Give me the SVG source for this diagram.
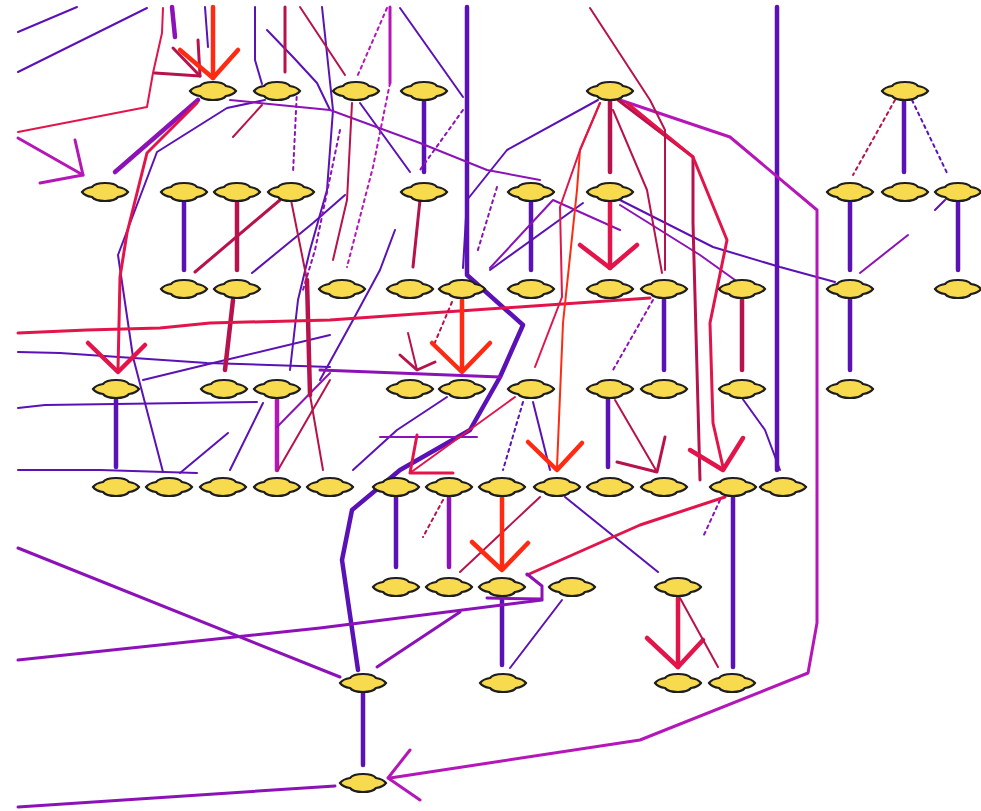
<svg xmlns="http://www.w3.org/2000/svg" xmlns:xlink="http://www.w3.org/1999/xlink" width="981" height="811" viewBox="0 0 981 811">
<style>
polyline{fill:none;stroke-linecap:round;stroke-linejoin:round}
.v{stroke:#5a12b6}.p{stroke:#8c12b8}.m{stroke:#b416b8}.c{stroke:#b8124c}.r{stroke:#e2144a}.b{stroke:#ff2a12}
.w1{stroke-width:2}.w2{stroke-width:3}.w3{stroke-width:4.5}
.d{stroke-dasharray:3 4}
.node{fill:#f8da4e;stroke:#1e1e1e;stroke-width:2.2}
</style>
<defs>
<path id="nd" d="M-23,0 Q-20,-4 -13,-5 Q-10,-9 0,-9 Q10,-9 13,-5 Q20,-4 23,0 Q20,4 13,5 Q10,9 0,9 Q-10,9 -13,5 Q-20,4 -23,0 Z"/>
</defs>
<rect width="981" height="811" fill="#fff"/>
<g id="connectors">
<polyline class="v w1" points="18,32 77,7"/>
<polyline class="v w1" points="18,72 147,8"/>
<polyline class="v w1" points="265,100 227,108 157,152 118,255 133,357 163,472"/>
<polyline class="v w1" points="255,7 255,60 262,84"/>
<polyline class="v w1" points="267,30 293,57 317,83 330,110"/>
<polyline class="v w3" points="184,200 184,270"/>
<polyline class="v w1" points="252,273 313,223 345,195"/>
<polyline class="v w1" points="322,7 333,110 327,190 310,250 298,300 290,370"/>
<polyline class="v w1" points="400,8 463,97"/>
<polyline class="v w1" points="360,103 410,172"/>
<polyline class="v w3" points="424,100 424,172"/>
<polyline class="c w2" points="420,200 413,267"/>
<polyline class="v w3" points="467,7 467,275 523,325 500,377 470,430 400,470 352,510 342,560 358,670"/>
<polyline class="v w1" points="598,100 507,150 467,200 463,268"/>
<polyline class="v w1" points="583,203 490,270"/>
<polyline class="v w3" points="531,200 531,270"/>
<polyline class="v w1" points="620,200 713,247 780,267 835,282"/>
<polyline class="v w3" points="777,7 777,470"/>
<polyline class="v w1" points="742,398 765,430 780,470"/>
<polyline class="v w3" points="904,100 904,172"/>
<polyline class="v w1 d" points="912,100 948,175"/>
<polyline class="v w3" points="850,200 850,270"/>
<polyline class="v w3" points="958,200 958,270"/>
<polyline class="v w1" points="945,200 935,210"/>
<polyline class="v w3" points="850,298 850,370"/>
<polyline class="v w3" points="664,298 664,370"/>
<polyline class="v w3" points="116,398 116,467"/>
<polyline class="v w1" points="18,352 60,353 207,363 330,367"/>
<polyline class="v w1" points="143,380 213,363 330,335"/>
<polyline class="v w1" points="18,408 45,405 257,402"/>
<polyline class="v w1" points="18,470 100,470 197,473"/>
<polyline class="v w1" points="180,473 228,433"/>
<polyline class="v w1" points="230,470 263,403"/>
<polyline class="v w1" points="320,380 353,320 380,270 395,230"/>
<polyline class="p w2" points="320,370 500,377"/>
<polyline class="v w1" points="447,397 397,430 353,470"/>
<polyline class="p w1" points="380,437 477,437"/>
<polyline class="v w1 d" points="523,402 503,470"/>
<polyline class="v w1" points="533,402 550,470"/>
<polyline class="v w3" points="608,398 608,467"/>
<polyline class="v w3" points="396,497 396,567"/>
<polyline class="p w3" points="449,497 449,567"/>
<polyline class="v w1" points="565,497 658,572"/>
<polyline class="v w3" points="733,497 733,667"/>
<polyline class="v w3" points="502,597 502,665"/>
<polyline class="v w1" points="562,600 510,668"/>
<polyline class="v w3" points="363,693 363,765"/>
<polyline class="p w2" points="542,600 320,628 18,660"/>
<polyline class="p w2" points="460,612 377,667"/>
<polyline class="p w2" points="18,548 340,677"/>
<polyline class="p w2" points="18,807 335,786"/>
<polyline class="p w3" points="198,100 115,172"/>
<polyline class="p w3" points="172,7 175,37"/>
<polyline class="v w1" points="205,7 208,47"/>
<polyline class="p w1" points="230,100 330,110 420,143 487,170 540,180"/>
<polyline class="m w2" points="18,138 83,175"/>
<polyline class="m w2" points="75,140 83,175 40,183"/>
<polyline class="m w3" points="277,398 277,470"/>
<polyline class="m w2" points="390,7 390,83"/>
<polyline class="m w1 d" points="390,83 373,167 347,267"/>
<polyline class="m w1 d" points="387,8 357,77"/>
<polyline class="p w1 d" points="463,110 420,170"/>
<polyline class="p w1 d" points="497,187 477,253"/>
<polyline class="p w1" points="620,230 553,200 490,268"/>
<polyline class="p w1" points="620,205 700,255 735,280"/>
<polyline class="p w1 d" points="653,300 613,370"/>
<polyline class="m w2" points="620,100 730,137 817,210 817,623 808,673 640,740 390,778"/>
<polyline class="m w2" points="410,750 388,778 420,800"/>
<polyline class="p w1 d" points="297,90 293,173"/>
<polyline class="p w1 d" points="340,130 315,250 303,290"/>
<polyline class="p w1" points="277,427 330,373"/>
<polyline class="p w1" points="908,235 860,273"/>
<polyline class="p w1 d" points="720,500 703,537"/>
<polyline class="r w1" points="163,8 162,33 153,73 147,107 18,132"/>
<polyline class="c w2" points="173,48 200,76"/>
<polyline class="c w2" points="198,40 200,76 155,73"/>
<polyline class="c w2" points="285,7 285,72"/>
<polyline class="c w1" points="300,7 345,75"/>
<polyline class="c w2" points="280,200 195,272"/>
<polyline class="c w3" points="237,200 237,270"/>
<polyline class="c w1" points="291,200 307,280"/>
<polyline class="c w3" points="307,280 310,395"/>
<polyline class="c w1" points="310,395 323,470"/>
<polyline class="c w1" points="352,103 347,200 333,260"/>
<polyline class="c w1" points="262,105 233,137"/>
<polyline class="c w3" points="233,300 225,370"/>
<polyline class="c w1" points="278,470 330,380"/>
<polyline class="r w2" points="18,333 87,330 160,328 210,323 330,320 430,313 650,298"/>
<polyline class="c w1" points="408,333 417,370"/>
<polyline class="c w2" points="400,355 417,370 435,362"/>
<polyline class="c w1 d" points="452,302 433,347"/>
<polyline class="r w1" points="515,397 410,473"/>
<polyline class="r w2" points="417,435 410,473 453,473"/>
<polyline class="b w1" points="600,103 580,150 577,190 563,323 557,467"/>
<polyline class="b w3" points="528,442 557,470 582,443"/>
<polyline class="r w1" points="600,103 580,150 560,207 562,297 535,367"/>
<polyline class="c w3" points="610,100 610,172"/>
<polyline class="r w3" points="610,200 610,268"/>
<polyline class="r w3" points="580,245 610,268 637,245"/>
<polyline class="c w1" points="613,110 647,190 662,273"/>
<polyline class="c w2" points="618,100 693,157 693,223 700,480"/>
<polyline class="r w2" points="627,103 693,157 727,240 710,323 713,423 723,467"/>
<polyline class="r w3" points="690,450 723,470 743,438"/>
<polyline class="c w1" points="590,8 650,100 665,130 665,270"/>
<polyline class="c w3" points="742,298 742,370"/>
<polyline class="c w1" points="615,400 657,472"/>
<polyline class="c w2" points="617,462 657,472 665,437"/>
<polyline class="c w1 d" points="895,100 853,175"/>
<polyline class="r w2" points="725,497 640,525 527,575"/>
<polyline class="p w2" points="527,574 542,586 542,599 487,598"/>
<polyline class="c w1" points="540,497 460,572"/>
<polyline class="c w1 d" points="443,500 423,537"/>
<polyline class="b w3" points="502,497 502,567"/>
<polyline class="b w3" points="472,542 502,570 528,543"/>
<polyline class="r w3" points="678,598 678,667"/>
<polyline class="r w3" points="647,638 678,667 703,640"/>
<polyline class="c w1" points="680,598 718,667"/>
<polyline class="b w3" points="213,7 213,78"/>
<polyline class="b w3" points="180,50 213,78 238,50"/>
<polyline class="r w2" points="197,103 147,153 127,233 120,277 118,370"/>
<polyline class="r w3" points="88,343 118,372 145,345"/>
<polyline class="b w3" points="462,298 462,370"/>
<polyline class="b w3" points="432,343 462,372 490,343"/>
</g>
<g id="nodes">
<g id="n1"><use href="#nd" class="node" x="213" y="91"/></g>
<g id="n2"><use href="#nd" class="node" x="277" y="91"/></g>
<g id="n3"><use href="#nd" class="node" x="356" y="91"/></g>
<g id="n4"><use href="#nd" class="node" x="424" y="91"/></g>
<g id="n5"><use href="#nd" class="node" x="610" y="91"/></g>
<g id="n6"><use href="#nd" class="node" x="905" y="91"/></g>
<g id="n7"><use href="#nd" class="node" x="105" y="192"/></g>
<g id="n8"><use href="#nd" class="node" x="184" y="192"/></g>
<g id="n9"><use href="#nd" class="node" x="237" y="192"/></g>
<g id="n10"><use href="#nd" class="node" x="291" y="192"/></g>
<g id="n11"><use href="#nd" class="node" x="424" y="192"/></g>
<g id="n12"><use href="#nd" class="node" x="531" y="192"/></g>
<g id="n13"><use href="#nd" class="node" x="610" y="192"/></g>
<g id="n14"><use href="#nd" class="node" x="850" y="192"/></g>
<g id="n15"><use href="#nd" class="node" x="905" y="192"/></g>
<g id="n16"><use href="#nd" class="node" x="958" y="192"/></g>
<g id="n17"><use href="#nd" class="node" x="184" y="289"/></g>
<g id="n18"><use href="#nd" class="node" x="237" y="289"/></g>
<g id="n19"><use href="#nd" class="node" x="342" y="289"/></g>
<g id="n20"><use href="#nd" class="node" x="410" y="289"/></g>
<g id="n21"><use href="#nd" class="node" x="462" y="289"/></g>
<g id="n22"><use href="#nd" class="node" x="531" y="289"/></g>
<g id="n23"><use href="#nd" class="node" x="610" y="289"/></g>
<g id="n24"><use href="#nd" class="node" x="664" y="289"/></g>
<g id="n25"><use href="#nd" class="node" x="742" y="289"/></g>
<g id="n26"><use href="#nd" class="node" x="850" y="289"/></g>
<g id="n27"><use href="#nd" class="node" x="958" y="289"/></g>
<g id="n28"><use href="#nd" class="node" x="116" y="389"/></g>
<g id="n29"><use href="#nd" class="node" x="224" y="389"/></g>
<g id="n30"><use href="#nd" class="node" x="277" y="389"/></g>
<g id="n31"><use href="#nd" class="node" x="410" y="389"/></g>
<g id="n32"><use href="#nd" class="node" x="462" y="389"/></g>
<g id="n33"><use href="#nd" class="node" x="531" y="389"/></g>
<g id="n34"><use href="#nd" class="node" x="610" y="389"/></g>
<g id="n35"><use href="#nd" class="node" x="664" y="389"/></g>
<g id="n36"><use href="#nd" class="node" x="742" y="389"/></g>
<g id="n37"><use href="#nd" class="node" x="850" y="389"/></g>
<g id="n38"><use href="#nd" class="node" x="116" y="487"/></g>
<g id="n39"><use href="#nd" class="node" x="169" y="487"/></g>
<g id="n40"><use href="#nd" class="node" x="223" y="487"/></g>
<g id="n41"><use href="#nd" class="node" x="277" y="487"/></g>
<g id="n42"><use href="#nd" class="node" x="330" y="487"/></g>
<g id="n43"><use href="#nd" class="node" x="396" y="487"/></g>
<g id="n44"><use href="#nd" class="node" x="449" y="487"/></g>
<g id="n45"><use href="#nd" class="node" x="502" y="487"/></g>
<g id="n46"><use href="#nd" class="node" x="557" y="487"/></g>
<g id="n47"><use href="#nd" class="node" x="610" y="487"/></g>
<g id="n48"><use href="#nd" class="node" x="664" y="487"/></g>
<g id="n49"><use href="#nd" class="node" x="733" y="487"/></g>
<g id="n50"><use href="#nd" class="node" x="783" y="487"/></g>
<g id="n51"><use href="#nd" class="node" x="396" y="587"/></g>
<g id="n52"><use href="#nd" class="node" x="449" y="587"/></g>
<g id="n53"><use href="#nd" class="node" x="502" y="587"/></g>
<g id="n54"><use href="#nd" class="node" x="572" y="587"/></g>
<g id="n55"><use href="#nd" class="node" x="678" y="587"/></g>
<g id="n56"><use href="#nd" class="node" x="363" y="683"/></g>
<g id="n57"><use href="#nd" class="node" x="503" y="683"/></g>
<g id="n58"><use href="#nd" class="node" x="678" y="683"/></g>
<g id="n59"><use href="#nd" class="node" x="732" y="683"/></g>
<g id="n60"><use href="#nd" class="node" x="363" y="783"/></g>
</g>
</svg>
